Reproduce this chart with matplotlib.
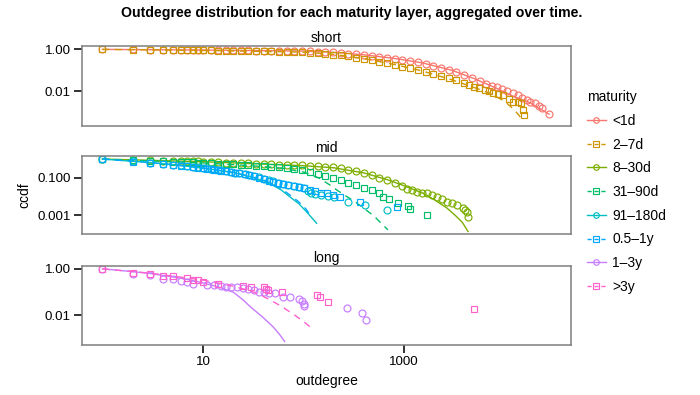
import numpy as np
import matplotlib.pyplot as plt
from matplotlib.lines import Line2D
from matplotlib.ticker import FixedLocator, NullLocator

plt.rcParams['font.family'] = ['Liberation Sans', 'DejaVu Sans']

# ---- data (outdegree vs ccdf) ----
# short layer
x_lt1d = [1, 2, 3, 4, 5, 6, 7, 8, 9, 10, 12, 14, 17, 20, 24, 28, 34, 40, 48, 57, 68, 81, 97, 115, 138,
          165, 196, 234, 280, 334, 398, 475, 567, 677, 808, 964, 1150, 1370, 1640, 1960, 2330, 2780,
          3320, 3970, 4730, 5650, 6600, 7500, 8400, 9500, 10500, 12200, 13500, 15000, 16500, 18000,
          20000, 22000, 23800, 27700]
y_lt1d = [1, 0.99, 0.98, 0.97, 0.965, 0.96, 0.95, 0.945, 0.94, 0.933, 0.927, 0.92, 0.912, 0.904,
          0.895, 0.887, 0.879, 0.871, 0.863, 0.855, 0.847, 0.839, 0.832, 0.809, 0.78, 0.753, 0.716,
          0.671, 0.63, 0.586, 0.535, 0.488, 0.444, 0.394, 0.349, 0.31, 0.272, 0.237, 0.205, 0.164,
          0.132, 0.105, 0.082, 0.059, 0.043, 0.031, 0.0234, 0.0186, 0.0166, 0.0126, 0.0105, 0.0079,
          0.0063, 0.005, 0.004, 0.0032, 0.0027, 0.002, 0.00155, 0.00083]
fx_lt1d = [1, 10, 100, 200, 400, 800, 1500, 3000, 5000, 8000, 12000, 18000, 27700]
fy_lt1d = [1, 0.93, 0.83, 0.72, 0.55, 0.37, 0.23, 0.1, 0.04, 0.015, 0.006, 0.0028, 0.0008]

x_2_7d = [1, 2, 3, 4, 5, 6, 7, 8, 9, 10, 12, 14, 17, 20, 24, 28, 34, 40, 48, 57, 68, 81, 97, 115, 138,
          165, 196, 234, 280, 334, 398, 475, 567, 677, 808, 964, 1150, 1370, 1640, 1960, 2330, 2780,
          3320, 3970, 4400, 5000, 5600, 6400, 7000, 7700, 8600, 9700, 11000, 12200, 13500, 14600,
          15300, 15600]
y_2_7d = [1, 0.98, 0.96, 0.95, 0.94, 0.93, 0.92, 0.91, 0.9, 0.891, 0.885, 0.879, 0.873, 0.867, 0.861,
          0.855, 0.843, 0.828, 0.809, 0.792, 0.776, 0.76, 0.745, 0.705, 0.661, 0.619, 0.569, 0.512,
          0.459, 0.407, 0.352, 0.303, 0.261, 0.217, 0.181, 0.15, 0.123, 0.1, 0.081, 0.066, 0.054,
          0.044, 0.035, 0.026, 0.019, 0.016, 0.0138, 0.0115, 0.01, 0.0079, 0.0071, 0.0066, 0.0045,
          0.0032, 0.003, 0.0027, 0.0013, 0.00074]
fx_2_7d = [1, 10, 100, 200, 400, 800, 1500, 3000, 5000, 7200, 10000, 12500, 14900]
fy_2_7d = [1, 0.89, 0.74, 0.58, 0.36, 0.19, 0.095, 0.035, 0.015, 0.008, 0.0033, 0.0013, 0.00047]

# mid layer
x_8_30d = [1, 2, 3, 4, 5, 6, 7, 8, 9, 10, 12, 14, 17, 20, 24, 28, 34, 40, 48, 57, 68, 81, 97, 115, 138,
           165, 196, 234, 280, 334, 398, 475, 567, 677, 808, 964, 1070, 1200, 1340, 1500, 1700, 1900,
           2140, 2400, 2690, 3000, 3380, 3860, 4000, 4200, 4330]
y_8_30d = [1, 0.89, 0.85, 0.82, 0.8, 0.78, 0.77, 0.75, 0.74, 0.73, 0.701, 0.679, 0.652, 0.628, 0.604,
           0.585, 0.561, 0.542, 0.521, 0.501, 0.488, 0.473, 0.459, 0.437, 0.412, 0.389, 0.355, 0.312,
           0.274, 0.237, 0.177, 0.135, 0.102, 0.071, 0.049, 0.034, 0.024, 0.021, 0.018, 0.016, 0.0145,
           0.012, 0.0095, 0.0072, 0.0051, 0.0043, 0.0035, 0.0024, 0.0019, 0.0015, 0.00081]
fx_8_30d = [1, 10, 100, 200, 400, 700, 1000, 1560, 2000, 2660, 3200, 3800, 4330]
fy_8_30d = [1, 0.72, 0.44, 0.34, 0.18, 0.075, 0.037, 0.0145, 0.0066, 0.0024, 0.001, 0.0004, 0.00013]

x_31_90d = [1, 2, 3, 4, 5, 6, 7, 8, 9, 10, 12, 14, 17, 20, 24, 28, 34, 40, 48, 57, 68, 81, 97, 115, 138,
            165, 196, 234, 280, 334, 398, 475, 567, 622, 700, 878, 1104, 1140, 1680]
y_31_90d = [1, 0.87, 0.8, 0.76, 0.72, 0.7, 0.68, 0.66, 0.645, 0.63, 0.601, 0.577, 0.548, 0.525, 0.491,
            0.463, 0.432, 0.406, 0.379, 0.356, 0.319, 0.286, 0.256, 0.208, 0.164, 0.129, 0.101, 0.0745,
            0.055, 0.0403, 0.0292, 0.0209, 0.0148, 0.0095, 0.0075, 0.0043, 0.003, 0.002, 0.001]
fx_31_90d = [1, 10, 30, 60, 100, 140, 184, 214, 260, 320, 394, 500, 690]
fy_31_90d = [1, 0.62, 0.44, 0.33, 0.2, 0.1, 0.04, 0.022, 0.011, 0.0055, 0.0024, 0.0009, 0.00016]

x_91_180d = [1, 2, 3, 4, 5, 6, 7, 8, 9, 10, 11, 12, 13, 14, 15, 17, 19, 21, 23, 26, 29, 32, 36, 40, 45,
             50, 56, 63, 70, 80, 90, 100, 110, 120, 130, 150, 175, 200, 280, 410, 670]
y_91_180d = [1, 0.74, 0.65, 0.57, 0.51, 0.46, 0.42, 0.39, 0.36, 0.34, 0.32, 0.3, 0.28, 0.26, 0.25,
             0.23, 0.21, 0.19, 0.18, 0.165, 0.145, 0.125, 0.105, 0.085, 0.072, 0.063, 0.054, 0.046,
             0.041, 0.036, 0.032, 0.028, 0.02, 0.016, 0.013, 0.0115, 0.0105, 0.0095, 0.0051, 0.0035,
             0.0019]
fx_91_180d = [1, 3, 5, 10, 20, 30, 43, 60, 73, 90, 107, 135]
fy_91_180d = [1, 0.65, 0.5, 0.33, 0.19, 0.11, 0.06, 0.022, 0.0095, 0.004, 0.0015, 0.00036]

x_05_1y = [1, 2, 3, 4, 5, 6, 7, 8, 9, 10, 11, 12, 13, 14, 15, 17, 19, 21, 23, 26, 29, 32, 36, 40, 45,
           50, 56, 63, 70, 80, 90, 100, 115, 130, 150, 170, 198, 231, 365, 845]
y_05_1y = [1, 0.72, 0.64, 0.56, 0.49, 0.44, 0.4, 0.37, 0.34, 0.32, 0.3, 0.28, 0.26, 0.25, 0.24, 0.22,
           0.2, 0.185, 0.175, 0.16, 0.14, 0.12, 0.1, 0.082, 0.07, 0.062, 0.052, 0.045, 0.04, 0.035,
           0.031, 0.027, 0.022, 0.019, 0.016, 0.0145, 0.0117, 0.0095, 0.0051, 0.0028]
fx_05_1y = [1, 3, 5, 10, 20, 30, 43, 60, 73, 90, 105, 120]
fy_05_1y = [1, 0.65, 0.5, 0.33, 0.19, 0.115, 0.065, 0.026, 0.012, 0.005, 0.0022, 0.0008]

# long layer
x_1_3y = [1, 2, 3, 4, 5, 6, 7, 8, 11, 13, 15, 17, 19, 22, 25, 28, 32, 36, 40, 45, 52, 63, 74, 91, 96,
          100, 101, 270, 380, 417]
y_1_3y = [1, 0.61, 0.55, 0.37, 0.36, 0.29, 0.26, 0.23, 0.21, 0.2, 0.19, 0.17, 0.165, 0.16, 0.15, 0.135,
          0.126, 0.106, 0.1, 0.095, 0.091, 0.065, 0.061, 0.05, 0.04, 0.032, 0.026, 0.0206, 0.0134, 0.0065]
fx_1_3y = [1, 2, 3, 5, 7, 10, 13, 16, 20, 25, 30, 40, 50, 58, 65]
fy_1_3y = [1, 0.76, 0.63, 0.45, 0.35, 0.25, 0.186, 0.141, 0.1, 0.047, 0.0224, 0.0079, 0.0032, 0.0015,
           0.00076]

x_gt3y = [1, 2, 3, 4, 5, 7, 8, 9, 10, 14, 25, 30, 40, 42, 44, 61, 135, 146, 177, 4980]
y_gt3y = [1, 0.65, 0.61, 0.5, 0.47, 0.4, 0.34, 0.32, 0.27, 0.22, 0.19, 0.17, 0.16, 0.13, 0.12, 0.097,
          0.077, 0.059, 0.037, 0.019]
fx_gt3y = [1, 3, 10, 20, 30, 37, 45, 60, 80, 100, 120]
fy_gt3y = [1, 0.65, 0.33, 0.18, 0.11, 0.078, 0.05, 0.025, 0.011, 0.0055, 0.0029]

maturities = ['<1d', '2\u20137d', '8\u201330d', '31\u201390d', '91\u2013180d', '0.5\u20131y', '1\u20133y', '>3y']
colors = ['#F8766D', '#CD9600', '#7CAE00', '#00BE67', '#00BFC4', '#00A9FF', '#C77CFF', '#FF61CC']
layers = ['short', 'short', 'mid', 'mid', 'mid', 'mid', 'long', 'long']
points = [(x_lt1d, y_lt1d), (x_2_7d, y_2_7d), (x_8_30d, y_8_30d), (x_31_90d, y_31_90d),
          (x_91_180d, y_91_180d), (x_05_1y, y_05_1y), (x_1_3y, y_1_3y), (x_gt3y, y_gt3y)]
fits = [(fx_lt1d, fy_lt1d), (fx_2_7d, fy_2_7d), (fx_8_30d, fy_8_30d), (fx_31_90d, fy_31_90d),
        (fx_91_180d, fy_91_180d), (fx_05_1y, fy_05_1y), (fx_1_3y, fy_1_3y), (fx_gt3y, fy_gt3y)]

panel_names = ['short', 'mid', 'long']
ylims = {'short': (10**-3.64, 10**0.17), 'mid': (10**-4.03, 10**0.162), 'long': (10**-3.26, 10**0.129)}
yticks = {'short': ([1, 0.01], ['1.00', '0.01']),
          'mid': ([0.1, 0.001], ['0.100', '0.001']),
          'long': ([1, 0.01], ['1.00', '0.01'])}
# panel boxes in figure fraction (left, bottom, width, height)
boxes = {'short': (0.117, 0.682, 0.699, 0.202),
         'mid': (0.117, 0.407, 0.699, 0.198),
         'long': (0.117, 0.127, 0.699, 0.200)}

fig = plt.figure(figsize=(7, 3.95), dpi=100)
axes = {}
for name in panel_names:
    ax = fig.add_axes(boxes[name])
    axes[name] = ax
    ax.set_xscale('log')
    ax.set_yscale('log')
    ax.set_xlim(10**-0.204, 10**4.662)
    ax.set_ylim(*ylims[name])
    for s in ax.spines.values():
        s.set_color('#7f7f7f')
        s.set_linewidth(1.1)
    ax.yaxis.set_major_locator(FixedLocator(yticks[name][0]))
    ax.set_yticklabels(yticks[name][1])
    ax.yaxis.set_minor_locator(NullLocator())
    ax.xaxis.set_minor_locator(NullLocator())
    ax.tick_params(axis='y', length=6, width=1.3, color='#222222', labelsize=9.6, pad=2)
    ax.set_title(name, fontsize=10, pad=3)
    if name == 'long':
        ax.xaxis.set_major_locator(FixedLocator([10, 1000]))
        ax.set_xticklabels(['10', '1000'])
        ax.tick_params(axis='x', length=6, width=1.3, color='#222222', labelsize=9.6, pad=2)
    else:
        ax.xaxis.set_major_locator(NullLocator())

for i, m in enumerate(maturities):
    ax = axes[layers[i]]
    mk = 'o' if i % 2 == 0 else 's'
    ls = '-' if i % 2 == 0 else (0, (5, 4))
    ax.plot(points[i][0], points[i][1], linestyle='none', marker=mk, ms=5, mfc='none',
            mec=colors[i], mew=0.85)
    ax.plot(fits[i][0], fits[i][1], linestyle=ls, color=colors[i], lw=1.0)

axes['mid'].set_ylabel('ccdf', fontsize=10, labelpad=4)
axes['long'].set_xlabel('outdegree', fontsize=10, labelpad=4)

fig.suptitle('Outdegree distribution for each maturity layer, aggregated over time.',
             fontsize=10.2, fontweight='bold', x=0.503, y=0.985)

handles = [Line2D([], [], color=colors[i], marker='o' if i % 2 == 0 else 's', ms=4, mfc='none',
                  mew=0.85, lw=1.0, linestyle='-' if i % 2 == 0 else (0, (3, 2)))
           for i in range(len(maturities))]
leg = fig.legend(handles, maturities, title='maturity', loc='upper left',
                 bbox_to_anchor=(0.838, 0.772), frameon=False, fontsize=10, title_fontsize=10,
                 handlelength=1.4, labelspacing=0.7, handletextpad=0.45, borderaxespad=0,
                 borderpad=0)
leg._legend_box.align = 'left'

fig.savefig('out.png', dpi=100)
